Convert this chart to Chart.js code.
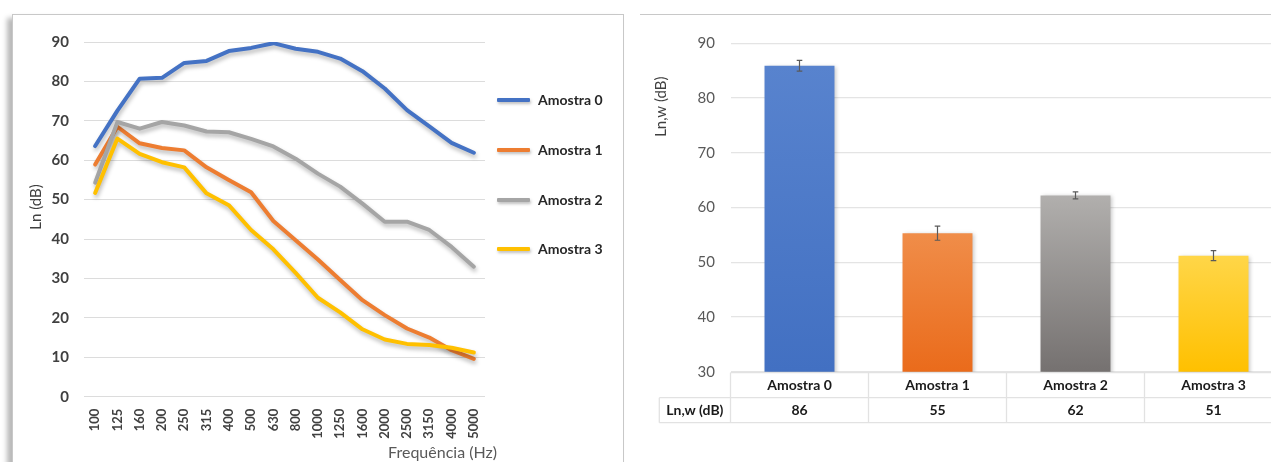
<!DOCTYPE html>
<html><head><meta charset="utf-8">
<script src="https://cdn.jsdelivr.net/npm/chart.js@4.4.1/dist/chart.umd.min.js"></script>
<style>
html,body{margin:0;padding:0;width:1271px;height:462px;overflow:hidden;background:#fff;font-family:Lato,"Open Sans",sans-serif;}
#leftPanel{position:absolute;left:12px;top:14px;width:610px;height:470px;border:1px solid #c8c8c8;box-shadow:-5px 4px 5px rgba(0,0,0,0.28);background:#fff;}
#rightTop{position:absolute;left:640px;top:14px;width:640px;height:0;border-top:1px solid #c8c8c8;}
#c1{position:absolute;left:0;top:0;}
#c2{position:absolute;left:640px;top:0;}
.lgLine{position:absolute;left:497px;width:33px;height:4px;border-radius:1px;box-shadow:1px 2px 3px rgba(0,0,0,0.25);}
.lgText{position:absolute;left:538px;font:bold 14px Lato,"Open Sans",sans-serif;color:#262626;line-height:16px;white-space:nowrap;}
</style></head>
<body>
<div id="leftPanel"></div>
<div id="rightTop"></div>
<canvas id="c1" width="625" height="462"></canvas>
<canvas id="c2" width="650" height="462"></canvas>
<div id="legend"></div>
<script>
// ---------- DATA ----------
const freqLabels = ['100','125','160','200','250','315','400','500','630','800','1000','1250','1600','2000','2500','3150','4000','5000'];
const seriesNames = ['Amostra 0','Amostra 1','Amostra 2','Amostra 3'];
const amostra0 = [63.6,72.6,80.7,80.9,84.7,85.2,87.7,88.5,89.7,88.3,87.5,85.8,82.6,78.2,72.7,68.6,64.4,61.9];
const amostra1 = [58.9,68.5,64.3,63.1,62.5,58.2,55.0,51.9,44.6,39.7,34.8,29.6,24.5,20.7,17.3,15.0,11.8,9.6];
const amostra2 = [54.3,69.7,68.0,69.7,68.8,67.3,67.1,65.4,63.5,60.4,56.6,53.3,49.0,44.4,44.4,42.3,38.0,33.0];
const amostra3 = [51.7,65.5,61.6,59.5,58.2,51.6,48.6,42.3,37.4,31.4,25.1,21.4,17.1,14.5,13.4,13.1,12.4,11.2];
const leftYTicks = [0,10,20,30,40,50,60,70,80,90];

const lnwValues = [85.9,55.3,62.2,51.2];
const lnwErrors = [0.97,1.28,0.64,0.91];
const lnwTable = ['86','55','62','51'];
const rightYTicks = [30,40,50,60,70,80,90];

// ---------- STYLES ----------
const lineColors = ['#4472C4','#ED7D31','#A5A5A5','#FFC000'];
const barTopColors = ['#5883CE','#F08D49','#B1AFAD','#FFD648'];
const barBottomColors = ['#4270C2','#EA6B1B','#757170','#FFC000'];
const FONT = 'Lato, "Open Sans", sans-serif';
Chart.defaults.font.family = FONT;

// legend (HTML)
const lg = document.getElementById('legend');
seriesNames.forEach((n,i)=>{
  const y = 100 + i*49.8;
  const l = document.createElement('div'); l.className='lgLine'; l.style.top=(y-2)+'px'; l.style.background=lineColors[i]; lg.appendChild(l);
  const t = document.createElement('div'); t.className='lgText'; t.style.top=(y-8)+'px'; t.textContent=n; lg.appendChild(t);
});

const shadowPlugin = {
  id:'shadowFx',
  beforeDatasetsDraw(chart, args, o){ const c=chart.ctx; c.save(); c.shadowColor=o.color; c.shadowBlur=o.blur; c.shadowOffsetX=o.x; c.shadowOffsetY=o.y; },
  afterDatasetsDraw(chart){ chart.ctx.restore(); }
};
const titlesPlugin = {
  id:'axisTitles',
  afterDraw(chart, args, o){
    const c=chart.ctx;
    (o.items||[]).forEach(it=>{
      c.save(); c.font=it.font; c.fillStyle=it.color; c.textBaseline='middle'; c.textAlign=it.align||'center';
      c.translate(it.x,it.y); if(it.rot) c.rotate(it.rot); c.fillText(it.text,0,0); c.restore();
    });
  }
};

// ---------- LEFT CHART ----------
const seriesData = [amostra0,amostra1,amostra2,amostra3];
new Chart(document.getElementById('c1'), {
  type:'line',
  data:{ labels:freqLabels, datasets: seriesData.map((d,i)=>({
    label:seriesNames[i], data:d, borderColor:lineColors[i], backgroundColor:lineColors[i],
    borderWidth:4, pointRadius:0, tension:0, borderJoinStyle:'round', borderCapStyle:'round', fill:false, order:3-i
  }))},
  options:{
    responsive:false, animation:false, events:[],
    layout:{padding:{top:42,right:140,left:0,bottom:0}},
    plugins:{ legend:{display:false}, tooltip:{enabled:false},
      shadowFx:{color:'rgba(0,0,0,0.28)',blur:4,x:1,y:3},
      axisTitles:{items:[
        {text:'Ln (dB)',x:36,y:207,rot:-Math.PI/2,font:'15px '+FONT,color:'#404040'},
        {text:'Frequência (Hz)',x:497,y:453,align:'right',font:'16px '+FONT,color:'#595959'}
      ]}
    },
    scales:{
      x:{ type:'category', offset:true,
        grid:{display:false}, border:{display:false},
        ticks:{autoSkip:false,minRotation:90,maxRotation:90,padding:4,color:'#404040',font:{size:13,weight:'bold'}},
        afterFit(s){ s.height = 65.3; }
      },
      y:{ min:leftYTicks[0], max:leftYTicks[leftYTicks.length-1],
        ticks:{stepSize:leftYTicks[1]-leftYTicks[0],padding:15,color:'#404040',font:{size:15,weight:'bold'}},
        grid:{color:'#DCDCDC',lineWidth:1,drawTicks:false}, border:{display:false},
        afterFit(s){ s.width = 84; }
      }
    }
  },
  plugins:[shadowPlugin,titlesPlugin]
});

// ---------- RIGHT CHART ----------
const errorBarPlugin = {
  id:'errBars',
  afterDatasetsDraw(chart){
    const c=chart.ctx, ys=chart.scales.y, meta=chart.getDatasetMeta(0);
    c.save(); c.strokeStyle='#5a5a5a'; c.lineWidth=1.2;
    meta.data.forEach((bar,i)=>{
      const x=bar.x, y1=ys.getPixelForValue(lnwValues[i]+lnwErrors[i]), y2=ys.getPixelForValue(lnwValues[i]-lnwErrors[i]);
      c.beginPath(); c.moveTo(x,y1); c.lineTo(x,y2);
      c.moveTo(x-2.8,y1); c.lineTo(x+2.8,y1); c.moveTo(x-2.8,y2); c.lineTo(x+2.8,y2); c.stroke();
    });
    c.restore();
  }
};
const tablePlugin = {
  id:'dataTable',
  afterDraw(chart){
    const c=chart.ctx, xs=chart.scales.x, a=chart.chartArea;
    const r0=a.bottom+1, r1=r0+25, r2=r1+25, hdrL=19.3;
    const n=seriesNames.length;
    const edges=[a.left];
    for(let i=0;i<n;i++){ edges.push(i<n-1 ? (xs.getPixelForValue(i)+xs.getPixelForValue(i+1))/2 : a.right); }
    c.save(); c.strokeStyle='#E2E2E2'; c.lineWidth=1.3;
    c.beginPath();
    c.moveTo(a.left,r0); c.lineTo(a.right,r0);
    c.moveTo(hdrL,r1); c.lineTo(a.right,r1);
    c.moveTo(hdrL,r2); c.lineTo(a.right,r2);
    c.moveTo(hdrL,r1); c.lineTo(hdrL,r2);
    edges.forEach(e=>{ c.moveTo(e,r0); c.lineTo(e,r2); });
    c.stroke();
    c.fillStyle='#1a1a1a'; c.font='bold 14px '+FONT; c.textAlign='center'; c.textBaseline='middle';
    for(let i=0;i<n;i++){ const x=xs.getPixelForValue(i); c.fillText(seriesNames[i],x,(r0+r1)/2+0.5); c.fillText(lnwTable[i],x,(r1+r2)/2+0.5); }
    c.fillText('Ln,w (dB)',(hdrL+a.left)/2,(r1+r2)/2+0.5);
    c.restore();
  }
};
new Chart(document.getElementById('c2'), {
  type:'bar',
  data:{ labels:seriesNames, datasets:[{
    label:'Ln,w (dB)', data:lnwValues, borderWidth:0, barPercentage:0.507, categoryPercentage:1,
    backgroundColor:(ctx)=>{
      const ch=ctx.chart, a=ch.chartArea, i=ctx.dataIndex;
      if(!a || !ch.scales.y || ctx.raw===undefined) return barBottomColors[i];
      const yTop=ch.scales.y.getPixelForValue(ctx.raw);
      const g=ch.ctx.createLinearGradient(0,yTop,0,a.bottom);
      g.addColorStop(0,barTopColors[i]); g.addColorStop(1,barBottomColors[i]); return g;
    }
  }]},
  options:{
    responsive:false, animation:false, events:[],
    layout:{padding:{top:43.3,right:7.5,left:0,bottom:0}},
    plugins:{ legend:{display:false}, tooltip:{enabled:false},
      shadowFx:{color:'rgba(0,0,0,0.22)',blur:4,x:2,y:1},
      axisTitles:{items:[
        {text:'Ln,w (dB)',x:21,y:106.7,rot:-Math.PI/2,font:'15px '+FONT,color:'#404040'}
      ]}
    },
    scales:{
      x:{ type:'category', grid:{display:false}, border:{display:false}, ticks:{display:false},
        afterFit(s){ s.height = 90.3; } },
      y:{ min:rightYTicks[0], max:rightYTicks[rightYTicks.length-1],
        ticks:{stepSize:rightYTicks[1]-rightYTicks[0],padding:15.5,color:'#595959',font:{size:15}},
        grid:{color:'#E4E4E4',lineWidth:1.3,drawTicks:false}, border:{display:false},
        afterFit(s){ s.width = 90.5; } }
    }
  },
  plugins:[shadowPlugin,errorBarPlugin,tablePlugin,titlesPlugin]
});
</script>
</body></html>
